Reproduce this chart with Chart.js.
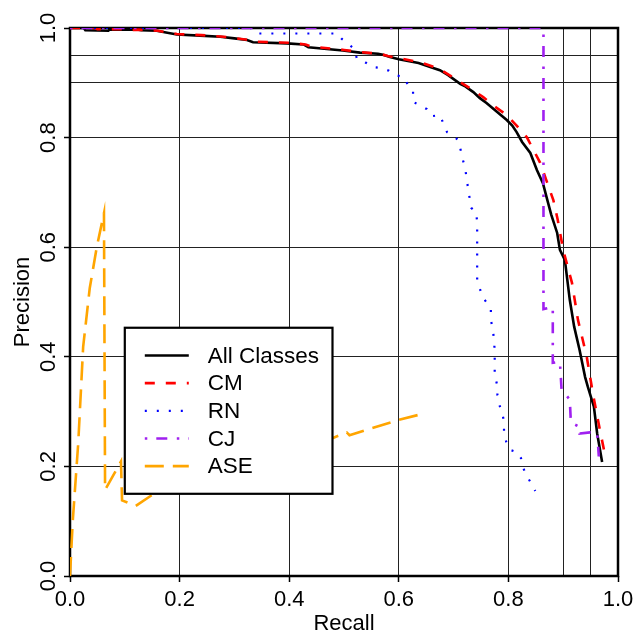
<!DOCTYPE html>
<html>
<head>
<meta charset="utf-8">
<script src="https://cdn.jsdelivr.net/npm/chart.js@4.4.0/dist/chart.umd.min.js"></script>
<style>
  html, body { margin: 0; padding: 0; background: #fff; }
</style>
</head>
<body>
<canvas id="prChart" width="634" height="633"></canvas>
<script>
// Valores (recall / precision)
const allRecall = [0.000, 0.025, 0.028, 0.070, 0.072, 0.125, 0.130, 0.158, 0.195, 0.237, 0.274, 0.300, 0.323, 0.334, 0.396, 0.426, 0.435, 0.498, 0.529, 0.562, 0.571, 0.584, 0.600, 0.636, 0.660, 0.675, 0.690, 0.712, 0.722, 0.736, 0.748, 0.760, 0.779, 0.797, 0.807, 0.815, 0.825, 0.840, 0.852, 0.863, 0.870, 0.878, 0.889, 0.894, 0.903, 0.912, 0.920, 0.930, 0.940, 0.945, 0.956, 0.962, 0.971];
const allPrecision = [1.000, 1.000, 0.996, 0.995, 0.997, 0.997, 0.996, 0.995, 0.988, 0.986, 0.984, 0.981, 0.978, 0.974, 0.972, 0.970, 0.965, 0.959, 0.955, 0.953, 0.951, 0.947, 0.943, 0.936, 0.928, 0.923, 0.914, 0.898, 0.893, 0.883, 0.872, 0.863, 0.847, 0.832, 0.822, 0.810, 0.792, 0.772, 0.741, 0.717, 0.690, 0.660, 0.626, 0.595, 0.577, 0.504, 0.455, 0.412, 0.363, 0.345, 0.309, 0.260, 0.208];

const cmRecall = [0.000, 0.045, 0.050, 0.090, 0.100, 0.125, 0.160, 0.195, 0.240, 0.280, 0.320, 0.340, 0.400, 0.430, 0.440, 0.500, 0.530, 0.565, 0.580, 0.600, 0.640, 0.675, 0.706, 0.730, 0.754, 0.772, 0.797, 0.815, 0.834, 0.858, 0.870, 0.882, 0.890, 0.900, 0.916, 0.927, 0.943, 0.954, 0.967, 0.977];
const cmPrecision = [1.000, 1.000, 0.998, 0.998, 0.996, 0.997, 0.995, 0.989, 0.987, 0.984, 0.979, 0.975, 0.973, 0.970, 0.966, 0.960, 0.956, 0.953, 0.949, 0.945, 0.937, 0.925, 0.905, 0.890, 0.874, 0.859, 0.841, 0.822, 0.800, 0.754, 0.720, 0.686, 0.650, 0.595, 0.535, 0.467, 0.400, 0.334, 0.266, 0.218];

const rnRecall = [0.000, 0.330, 0.338, 0.487, 0.496, 0.507, 0.518, 0.524, 0.538, 0.551, 0.569, 0.582, 0.593, 0.608, 0.617, 0.626, 0.626, 0.639, 0.651, 0.659, 0.675, 0.688, 0.699, 0.708, 0.713, 0.717, 0.721, 0.726, 0.732, 0.741, 0.743, 0.743, 0.748, 0.753, 0.761, 0.768, 0.768, 0.772, 0.775, 0.775, 0.779, 0.780, 0.783, 0.788, 0.792, 0.792, 0.796, 0.803, 0.816, 0.823, 0.827, 0.834, 0.841, 0.849];
const rnPrecision = [1.000, 1.000, 0.990, 0.990, 0.980, 0.972, 0.962, 0.943, 0.938, 0.929, 0.927, 0.922, 0.914, 0.911, 0.896, 0.887, 0.865, 0.859, 0.852, 0.839, 0.841, 0.810, 0.803, 0.796, 0.777, 0.759, 0.745, 0.710, 0.672, 0.664, 0.646, 0.540, 0.524, 0.509, 0.498, 0.487, 0.467, 0.449, 0.412, 0.369, 0.350, 0.330, 0.314, 0.299, 0.283, 0.261, 0.245, 0.230, 0.226, 0.215, 0.197, 0.182, 0.170, 0.155];

const cjRecall = [0.000, 0.864, 0.864, 0.881, 0.881, 0.894, 0.897, 0.912, 0.914, 0.930, 0.930, 0.949, 0.962, 0.965];
const cjPrecision = [1.000, 1.000, 0.487, 0.491, 0.389, 0.391, 0.340, 0.322, 0.280, 0.272, 0.260, 0.262, 0.262, 0.218];

const aseRecall = [0.000, 0.005, 0.015, 0.024, 0.036, 0.049, 0.062, 0.064, 0.093, 0.095, 0.120, 0.150, 0.300, 0.480, 0.505, 0.510, 0.600, 0.648];
const asePrecision = [0.000, 0.100, 0.242, 0.418, 0.525, 0.601, 0.662, 0.157, 0.209, 0.138, 0.128, 0.148, 0.200, 0.252, 0.262, 0.257, 0.285, 0.297];

// Marcas de los ejes
const tickValues = [0, 0.2, 0.4, 0.6, 0.8, 1.0];
const extraGrid = [0.9, 0.95];

const fontFamily = '"Liberation Sans", Arial, Helvetica, sans-serif';

function toPoints(xs, ys) {
    return xs.map((x, i) => ({ x: x, y: ys[i] }));
}

function buildTicks(scale) {
    scale.ticks = tickValues.concat(extraGrid).map(v => ({ value: v }));
}

const isLabeled = v => tickValues.includes(v);

// Caja del gráfico, etiquetas del eje Y y leyenda
const framePlugin = {
    id: 'frameAndLegend',
    beforeDatasetsDraw(chart) {
        const { ctx, chartArea } = chart;
        ctx.save();
        ctx.strokeStyle = '#000';
        ctx.lineWidth = 2.5;
        ctx.strokeRect(chartArea.left, chartArea.top, chartArea.right - chartArea.left, chartArea.bottom - chartArea.top);
        ctx.restore();
    },
    afterDatasetsDraw(chart) {
        const { ctx } = chart;
        const xs = chart.scales.x;
        const ys = chart.scales.y;

        // Etiquetas del eje Y, giradas
        ctx.save();
        ctx.fillStyle = '#000';
        ctx.font = '22px ' + fontFamily;
        ctx.textAlign = 'center';
        ctx.textBaseline = 'alphabetic';
        tickValues.forEach(v => {
            ctx.save();
            ctx.translate(xs.left - 15, ys.getPixelForValue(v));
            ctx.rotate(-Math.PI / 2);
            ctx.fillText(v.toFixed(1), 0, 0);
            ctx.restore();
        });
        ctx.restore();

        // Leyenda dentro del área
        const left = xs.getPixelForValue(0.1);
        const right = xs.getPixelForValue(0.479);
        const top = ys.getPixelForValue(0.453);
        const bottom = ys.getPixelForValue(0.15);
        const h = bottom - top;
        ctx.save();
        ctx.fillStyle = '#fff';
        ctx.fillRect(left, top, right - left, h);
        ctx.strokeStyle = '#000';
        ctx.lineWidth = 2.2;
        ctx.strokeRect(left, top, right - left, h);
        ctx.font = '22.5px ' + fontFamily;
        ctx.textBaseline = 'middle';
        ctx.textAlign = 'left';
        chart.data.datasets.forEach((ds, i) => {
            const y = top + (i + 1) * h / 6;
            ctx.beginPath();
            ctx.setLineDash(ds.borderDash || []);
            ctx.strokeStyle = ds.borderColor;
            ctx.lineWidth = ds.borderWidth;
            ctx.moveTo(left + 20, y);
            ctx.lineTo(left + 64, y);
            ctx.stroke();
            ctx.setLineDash([]);
            ctx.fillStyle = '#000';
            ctx.fillText(ds.label, left + 83, y + 1);
        });
        ctx.restore();
    }
};

const ctx = document.getElementById('prChart').getContext('2d');
new Chart(ctx, {
    type: 'scatter',
    data: {
        datasets: [
            { label: 'All Classes', data: toPoints(allRecall, allPrecision), borderColor: '#000000', borderWidth: 2.6, borderDash: [], order: 4 },
            { label: 'CM', data: toPoints(cmRecall, cmPrecision), borderColor: '#ff0000', borderWidth: 2.6, borderDash: [10, 11], order: 3 },
            { label: 'RN', data: toPoints(rnRecall, rnPrecision), borderColor: '#0000ff', borderWidth: 2.2, borderDash: [2, 10], order: 2 },
            { label: 'CJ', data: toPoints(cjRecall, cjPrecision), borderColor: '#a020f0', borderWidth: 2.6, borderDash: [2.5, 9, 11, 9.5], order: 1 },
            { label: 'ASE', data: toPoints(aseRecall, asePrecision), borderColor: '#ffa500', borderWidth: 2.6, borderDash: [19, 9], order: 0 }
        ].map(ds => Object.assign(ds, { showLine: true, pointRadius: 0, fill: false, tension: 0, backgroundColor: ds.borderColor }))
    },
    options: {
        responsive: false,
        animation: false,
        devicePixelRatio: 1,
        layout: { padding: { top: 28, right: 16, left: 0, bottom: 0 } },
        plugins: {
            legend: { display: false },
            tooltip: { enabled: false }
        },
        scales: {
            x: {
                type: 'linear',
                min: 0,
                max: 1,
                afterBuildTicks: buildTicks,
                afterFit: s => { s.height = 57; },
                border: { display: false },
                grid: {
                    color: '#222',
                    lineWidth: 1,
                    tickLength: 6,
                    tickWidth: 1.5,
                    tickColor: c => (c.tick && isLabeled(c.tick.value)) ? '#000' : 'rgba(0,0,0,0)'
                },
                ticks: {
                    autoSkip: false,
                    maxRotation: 0,
                    padding: 5,
                    color: '#000',
                    font: { family: fontFamily, size: 22 },
                    callback: v => isLabeled(v) ? v.toFixed(1) : ''
                },
                title: {
                    display: true,
                    text: 'Recall',
                    color: '#000',
                    font: { family: fontFamily, size: 22, lineHeight: 1 },
                    padding: { top: 0, bottom: -2 }
                }
            },
            y: {
                type: 'linear',
                min: 0,
                max: 1,
                afterBuildTicks: buildTicks,
                afterFit: s => { s.width = 70; },
                border: { display: false },
                grid: {
                    color: '#222',
                    lineWidth: 1,
                    tickLength: 6,
                    tickWidth: 1.5,
                    tickColor: c => (c.tick && isLabeled(c.tick.value)) ? '#000' : 'rgba(0,0,0,0)'
                },
                ticks: { display: false },
                title: {
                    display: true,
                    text: 'Precision',
                    color: '#000',
                    font: { family: fontFamily, size: 22, lineHeight: 1 },
                    padding: { top: 12, bottom: 0 }
                }
            }
        }
    },
    plugins: [framePlugin]
});
</script>
</body>
</html>
